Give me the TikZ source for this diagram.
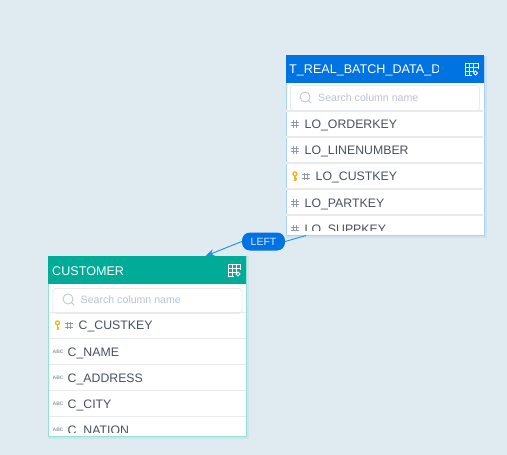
\documentclass[tikz,border=0pt]{standalone}
\usepackage{fontspec}
\setmainfont{Liberation Sans}
\usetikzlibrary{arrows.meta}
\definecolor{bgc}{HTML}{E0EAF1}
\definecolor{blueh}{HTML}{0073E2}
\definecolor{greenh}{HTML}{00AB98}
\definecolor{blueb}{HTML}{A8D2F6}
\definecolor{greenb}{HTML}{98E0D6}
\definecolor{sep}{HTML}{E8EAEE}
\definecolor{txt}{HTML}{474F63}
\definecolor{ph}{HTML}{B9C3D3}
\definecolor{icong}{HTML}{8F99A8}
\definecolor{linkc}{HTML}{1E90E6}
\definecolor{keyc}{HTML}{F7B51C}
\tikzset{
  x=1pt,y=-1pt,
  tablebox/.style={draw=#1,line width=1.4pt,fill=white,minimum width=198pt,minimum height=179.5pt,inner sep=0pt,anchor=north west},
  glowbox/.style={draw=#1,line width=3pt,opacity=0.3,minimum width=198pt,minimum height=179.5pt,inner sep=0pt,anchor=north west},
  headbar/.style={fill=#1,draw=none,minimum width=198pt,minimum height=28pt,inner sep=0pt,anchor=north west},
  headtext/.style={text=white,font=\fontsize{12.6}{14}\selectfont,anchor=west,inner sep=0pt},
  rowtext/.style={text=txt,font=\fontsize{12.3}{14}\selectfont,anchor=west,inner sep=0pt},
  searchbox/.style={draw=sep,line width=0.8pt,fill=white,rounded corners=3pt,minimum width=189pt,minimum height=25pt,inner sep=0pt,anchor=north west},
  searchtext/.style={text=ph,font=\fontsize{10.6}{12}\selectfont,anchor=west,inner sep=0pt},
  abctext/.style={text=icong,font=\fontsize{5}{6}\bfseries\selectfont,anchor=west,inner sep=0pt},
  seprule/.style={draw=sep,line width=1.2pt},
  linkline/.style={draw=linkc,line width=0.9pt},
  linktag/.style={fill=blueh,text=white!85!blueh,rounded corners=8pt,minimum width=43pt,minimum height=18pt,inner sep=0pt,font=\fontsize{10.5}{12}\selectfont},
  hashmark/.pic={\draw[icong,line width=0.8pt] (-3.6,-1.7)--(3.6,-1.7) (-3.6,1.7)--(3.6,1.7) (-1.7,-3.7)--(-1.7,3.7) (1.7,-3.7)--(1.7,3.7);},
  keymark/.pic={\draw[keyc,line width=1.3pt] (0,-2.6) circle (2pt);\draw[keyc,line width=1.5pt] (0,-0.6)--(0,4.6) (0,2.4)--(1.6,2.4) (0,4.2)--(1.4,4.2);},
  lens/.pic={\draw[ph,line width=0.8pt] (0,0) circle (5pt) (3.6,3.6)--(6.2,6.2);},
  gridmark/.pic={\draw[white,line width=0.7pt]
      (0,0) rectangle (12.4,4.1) (0,4.1) rectangle (8.2,8.2) (0,8.2) rectangle (4.1,12.4)
      (4.1,0)--(4.1,8.2) (8.2,0)--(8.2,4.1) (12.4,4.1)--(12.4,6.4) (4.1,12.4)--(6.4,12.4);
      \draw[white,line width=0.9pt] (10,10) circle (1.9pt);},
}
\begin{document}
\begin{tikzpicture}
\useasboundingbox (0,0) rectangle (507,455);
\fill[bgc] (0,0) rectangle (507,455);

% upper table
\node[glowbox=blueb] (tAg) at (285.5,55.5) {};
\node[tablebox=blueb] (tA) at (285.5,55.5) {};
\node[headbar=blueh] (tAh) at (285.5,55) {};
\begin{scope}
\clip (285.5,55) rectangle (438.5,83);
\node[headtext] (tAt) at (289,70.5) {T\_REAL\_BATCH\_DATA\_DETAIL};
\end{scope}
\pic at (465.5,63) {gridmark};
\node[searchbox] (tAs) at (290,85) {};
\pic at (305,97) {lens};
\node[searchtext] (tAq) at (318,97.5) {Search column name};
\foreach \yy in {111,137,163,189,215} \draw[seprule] (286,\yy)--(483,\yy);
\pic at (295,124) {hashmark};
\node[rowtext] (a1) at (304.5,125) {LO\_ORDERKEY};
\pic at (295,150) {hashmark};
\node[rowtext] (a2) at (304.5,151) {LO\_LINENUMBER};
\pic at (295,176.5) {keymark};
\pic at (306,176.5) {hashmark};
\node[rowtext] (a3) at (315.5,177.8) {LO\_CUSTKEY};
\pic at (295,203) {hashmark};
\node[rowtext] (a4) at (304.5,204) {LO\_PARTKEY};
\begin{scope}
\clip (286,216) rectangle (483,230.5);
\pic at (295,229) {hashmark};
\node[rowtext] (a5) at (304.5,230) {LO\_SUPPKEY};
\end{scope}

% lower table
\node[glowbox=greenb] (tBg) at (47.8,256) {};
\node[tablebox=greenb] (tB) at (47.8,256) {};
\node[headbar=greenh] (tBh) at (47.8,256) {};
\node[headtext] (tBt) at (52,271) {CUSTOMER};
\pic at (228,264) {gridmark};
\node[searchbox] (tBs) at (52.5,288) {};
\pic at (68,299) {lens};
\node[searchtext] (tBq) at (80.5,299.5) {Search column name};
\foreach \yy in {312.5,338.5,364.5,390.5,416.5} \draw[seprule] (48.5,\yy)--(245.5,\yy);
\pic at (57.5,325.5) {keymark};
\pic at (69,325.5) {hashmark};
\node[rowtext] (b1) at (78.5,326.8) {C\_CUSTKEY};
\node[abctext] (b2i) at (52.5,352) {ABC};
\node[rowtext] (b2) at (67.5,353) {C\_NAME};
\node[abctext] (b3i) at (52.5,378) {ABC};
\node[rowtext] (b3) at (67.5,379) {C\_ADDRESS};
\node[abctext] (b4i) at (52.5,404) {ABC};
\node[rowtext] (b4) at (67.5,405) {C\_CITY};
\begin{scope}
\clip (48.5,417) rectangle (245.5,432);
\node[abctext] (b5i) at (52.5,430) {ABC};
\node[rowtext] (b5) at (67.5,431) {C\_NATION};
\end{scope}

% link
\coordinate (from) at (306,235.5);
\coordinate (to) at (205.5,256);
\node[linktag] (lk) at (263.5,241.5) {LEFT};
\draw[linkline] (from) -- (lk.east);
\draw[linkline,-{Stealth[length=9pt,width=7pt]}] (lk.west) -- (to);
\end{tikzpicture}
\end{document}
